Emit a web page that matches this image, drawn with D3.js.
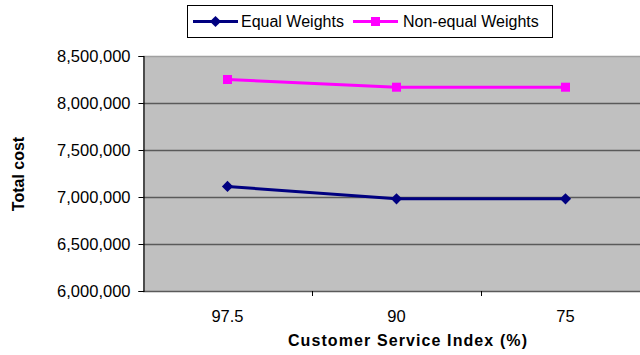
<!DOCTYPE html>
<html>
<head>
<meta charset="utf-8">
<script src="https://cdn.jsdelivr.net/npm/d3@7"></script>
<style>
  html, body { margin: 0; padding: 0; background: #fff; overflow: hidden; }
  svg { display: block; font-family: "Liberation Sans", Arial, sans-serif; }
</style>
</head>
<body>
<svg id="chart" width="640" height="355"></svg>
<script>
// Service levels on the x axis
const categories = ["97.5", "90", "75"];
// Total cost for each weighting scheme
const equalWeights = [7112000, 6981000, 6981000];
const nonEqualWeights = [8250000, 8168000, 8168000];
// Value axis ticks
const yTicks = [6000000, 6500000, 7000000, 7500000, 8000000, 8500000];

const svg = d3.select("#chart");
const margin = { left: 143, top: 56, right: 650, bottom: 291 };

const x = d3.scaleBand().domain(categories).range([margin.left, margin.right]);
const y = d3.scaleLinear().domain([6000000, 8500000]).range([margin.bottom, margin.top]);

// Plot background
svg.append("rect")
  .attr("x", margin.left).attr("y", margin.top)
  .attr("width", margin.right - margin.left)
  .attr("height", margin.bottom - margin.top)
  .attr("fill", "#c0c0c0");

// Horizontal gridlines
svg.append("g").selectAll("line").data(yTicks).join("line")
  .attr("x1", margin.left).attr("x2", margin.right)
  .attr("y1", d => y(d) + 0.5).attr("y2", d => y(d) + 0.5)
  .attr("stroke", d => d === 8500000 ? "#a0a0a0" : "#5a5a5a")
  .attr("stroke-width", 1.5);

// Y axis
const fmt = d3.format(",");
const yAxis = svg.append("g")
  .attr("transform", `translate(${margin.left + 0.5},0)`)
  .call(d3.axisLeft(y).tickValues(yTicks).tickFormat(fmt).tickSize(5).tickPadding(8));
yAxis.select(".domain").attr("stroke", "#000").attr("stroke-width", 1.2);
yAxis.selectAll(".tick line").attr("stroke", "#000");
yAxis.selectAll("text").attr("font-size", 16.5).attr("fill", "#000")
  .attr("font-family", "Liberation Sans, Arial, sans-serif");

// X axis: ticks between categories
const xAxis = svg.append("g")
  .attr("transform", `translate(0,${margin.bottom})`);
const boundaries = categories.slice(1).map(c => x(c));
xAxis.selectAll("line").data(boundaries).join("line")
  .attr("x1", d => d + 0.5).attr("x2", d => d + 0.5)
  .attr("y1", 0).attr("y2", 5)
  .attr("stroke", "#000");
xAxis.selectAll("text").data(categories).join("text")
  .attr("x", d => x(d) + x.bandwidth() / 2)
  .attr("y", 31)
  .attr("text-anchor", "middle")
  .attr("font-size", 16.5)
  .text(d => d);

// Axis titles
svg.append("text")
  .attr("transform", "translate(24,174) rotate(-90)")
  .attr("text-anchor", "middle")
  .attr("font-size", 16).attr("font-weight", "bold")
  .text("Total cost");
svg.append("text")
  .attr("x", 408).attr("y", 346)
  .attr("text-anchor", "middle")
  .attr("font-size", 16).attr("font-weight", "bold")
  .attr("letter-spacing", 1.1)
  .text("Customer Service Index (%)");

// Series
const series = [
  { name: "Equal Weights", values: equalWeights, color: "#000080", marker: "diamond" },
  { name: "Non-equal Weights", values: nonEqualWeights, color: "#ff00ff", marker: "square" }
];
const line = d3.line()
  .x((d, i) => x(categories[i]) + x.bandwidth() / 2)
  .y(d => y(d));

function drawMarker(g, type, color, cx, cy) {
  if (type === "diamond") {
    g.append("path")
      .attr("d", d3.symbol(d3.symbolDiamond2, 80)())
      .attr("transform", `translate(${cx},${cy})`)
      .attr("fill", color);
  } else {
    g.append("rect")
      .attr("x", cx - 4.5).attr("y", cy - 4.5)
      .attr("width", 9).attr("height", 9)
      .attr("fill", color);
  }
}

series.forEach(s => {
  const g = svg.append("g");
  g.append("path").datum(s.values)
    .attr("d", line)
    .attr("fill", "none")
    .attr("stroke", s.color)
    .attr("stroke-width", 3);
  s.values.forEach((v, i) => {
    drawMarker(g, s.marker, s.color, x(categories[i]) + x.bandwidth() / 2, y(v));
  });
});

// Legend
const legend = svg.append("g");
legend.append("rect")
  .attr("x", 187.5).attr("y", 5.5).attr("width", 365).attr("height", 32)
  .attr("fill", "#fff").attr("stroke", "#000").attr("stroke-width", 1);
const legendItems = [
  { s: series[0], x0: 193, tx: 241 },
  { s: series[1], x0: 353, tx: 403 }
];
legendItems.forEach(item => {
  legend.append("line")
    .attr("x1", item.x0).attr("x2", item.x0 + 45)
    .attr("y1", 21.5).attr("y2", 21.5)
    .attr("stroke", item.s.color).attr("stroke-width", 3);
  drawMarker(legend, item.s.marker, item.s.color, item.x0 + 22.5, 21.5);
  legend.append("text")
    .attr("x", item.tx).attr("y", 27)
    .attr("font-size", 16)
    .text(item.s.name);
});
</script>
</body>
</html>
